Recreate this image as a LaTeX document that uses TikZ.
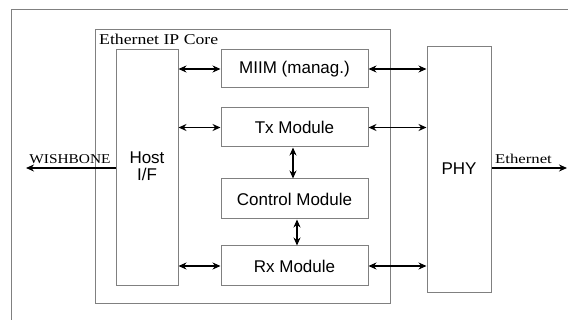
\documentclass[tikz,border=0pt]{standalone}
\usepackage{fontspec}
\setmainfont{Liberation Serif}
\newfontfamily\arialf{Liberation Sans}
\usetikzlibrary{arrows.meta}
\tikzset{
  blk/.style={draw=black!50, line width=1pt, inner sep=0pt, font=\arialf\fontsize{17}{19}\selectfont},
  conn/.style={line width=1.4pt, {Stealth[length=8pt,width=7pt]}-{Stealth[length=8pt,width=7pt]}},
  outarr/.style={line width=1.4pt, -{Stealth[length=8pt,width=7pt]}},
  lbl/.style={inner sep=0pt, font=\fontsize{13.5}{14}\selectfont}
}
\begin{document}
\begin{tikzpicture}[x=1pt,y=-1pt]
\useasboundingbox (0,0) rectangle (568,320);
\fill[white] (0,0) rectangle (568,320);
% outer frame
\coordinate (fa) at (11,321);
\coordinate (fb) at (11,10);
\coordinate (fc) at (569,10);
\draw[draw=black!50, line width=1pt] (fa) -- (fb) -- (fc);
% core
\node[blk, minimum width=295pt, minimum height=274pt] (core) at (242.5,167) {};
\node[lbl, anchor=west, font=\fontsize{15}{16}\selectfont] (corelbl) at (99,39) {\scalebox{1.18}[1]{Ethernet IP Core}};
% blocks
\node[blk, minimum width=62pt, minimum height=236pt] (host) at (147,168) {};
\node[blk, inner sep=0pt, draw=none, align=center] (hosttxt) at (147,166) {Host\\[-2pt]I/F};
\node[blk, minimum width=147pt, minimum height=38pt] (miim) at (294.5,69) {MIIM (manag.)};
\node[blk, minimum width=147pt, minimum height=39pt] (tx) at (294.5,127.5) {Tx Module};
\node[blk, minimum width=147pt, minimum height=40pt] (ctrl) at (294.5,199) {Control Module};
\node[blk, minimum width=147pt, minimum height=40pt] (rx) at (294.5,266) {Rx Module};
\node[blk, minimum width=64pt, minimum height=246pt] (phy) at (459,170) {};
\node[blk, draw=none] (phytxt) at (459,169) {PHY};
% connectors
\draw[conn] (host.east |- miim) -- (miim.west);
\draw[conn] (host.east |- tx) -- (tx.west);
\draw[conn] (host.east |- rx) -- (rx.west);
\draw[conn] (miim.east) -- (phy.west |- miim);
\draw[conn] (tx.east) -- (phy.west |- tx);
\draw[conn] (rx.east) -- (phy.west |- rx);
\draw[conn] ([xshift=-1.5pt]tx.south) -- ([xshift=-1.5pt]ctrl.north);
\draw[conn] ([xshift=2.5pt]ctrl.south) -- ([xshift=2.5pt]rx.north);
% external
\coordinate (wb) at (26,168);
\coordinate (eth) at (567,168);
\draw[outarr] ([yshift=0pt]host.west) -- (wb);
\draw[outarr] (phy.east |- eth) -- (eth);
\node[lbl, anchor=south] (wblbl) at (70,164) {\scalebox{1.14}[1]{WISHBONE}};
\node[lbl, anchor=south] (ethlbl) at (523.5,164) {\scalebox{1.24}[1]{Ethernet}};
\end{tikzpicture}
\end{document}
